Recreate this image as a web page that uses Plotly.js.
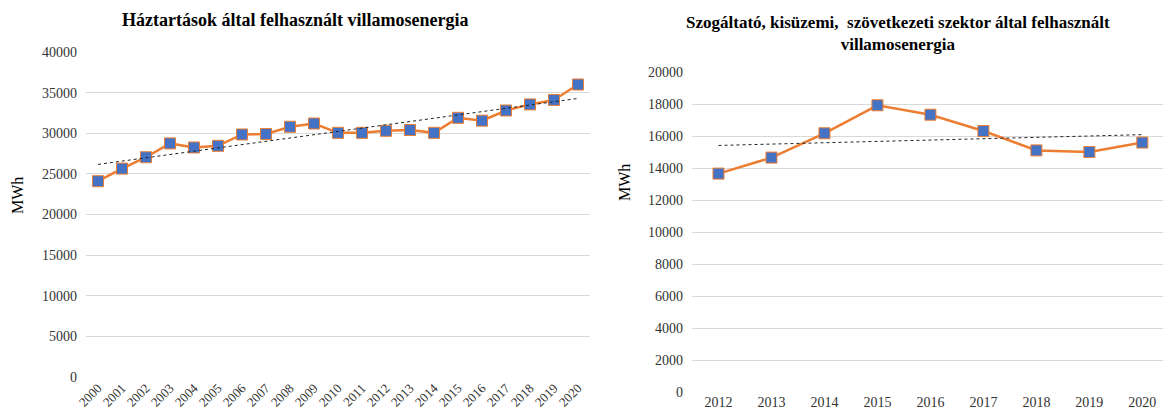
<!DOCTYPE html>
<html>
<head>
<meta charset="utf-8">
<script src="https://cdn.plot.ly/plotly-3.0.1.min.js"></script>
<style>html,body{margin:0;padding:0;background:#fff;}#chart{width:1163px;height:414px;}</style>
</head>
<body>
<div id="chart"></div>
<script>
// Left chart: households
const yearsLeft = ['2000','2001','2002','2003','2004','2005','2006','2007','2008','2009','2010','2011','2012','2013','2014','2015','2016','2017','2018','2019','2020'];
const householdMWh = [24100,25650,27050,28750,28250,28450,29850,29900,30800,31200,30050,30050,30300,30400,30050,31900,31550,32800,33550,34100,36000];

// Right chart: service, small-plant, cooperative sector
const yearsRight = ['2012','2013','2014','2015','2016','2017','2018','2019','2020'];
const serviceMWh = [13650,14650,16170,17920,17330,16310,15100,15000,15590];

const titleLeft = 'Háztartások által felhasznált villamosenergia';
const titleRightLines = ['Szogáltató, kisüzemi,  szövetkezeti szektor által felhasznált', 'villamosenergia'];
const yTitle = 'MWh';

// linear least-squares trendline endpoints (Excel-style trendline)
function trendEnds(ys){
  const n = ys.length;
  let sx=0, sy=0, sxx=0, sxy=0;
  for(let i=0;i<n;i++){ sx+=i; sy+=ys[i]; sxx+=i*i; sxy+=i*ys[i]; }
  const b = (n*sxy - sx*sy)/(n*sxx - sx*sx);
  const a = (sy - b*sx)/n;
  return [a, a + b*(n-1)];
}

const W = 1163, H = 414;
const px = v => v / W;
const py = v => 1 - v / H;

const orange = '#ED7D31', blue = '#4472C4';
const serif = 'Liberation Serif, Times New Roman, serif';

const lineTrace = (x, y, xa, ya) => ({
  x: x, y: y, xaxis: xa, yaxis: ya, type: 'scatter', mode: 'lines+markers',
  line: {color: orange, width: 2.5},
  marker: {symbol: 'square', size: 11, color: blue, line: {color: orange, width: 1}},
  hoverinfo: 'x+y', showlegend: false
});

const tL = trendEnds(householdMWh);
const tR = trendEnds(serviceMWh);

const data = [
  lineTrace(yearsLeft, householdMWh, 'x', 'y'),
  {x: [yearsLeft[0], yearsLeft[yearsLeft.length-1]], y: tL, xaxis: 'x', yaxis: 'y', type: 'scatter', mode: 'lines',
   line: {color: '#222', width: 1, dash: 'dot'}, hoverinfo: 'skip', showlegend: false},
  lineTrace(yearsRight, serviceMWh, 'x2', 'y2'),
  {x: [yearsRight[0], yearsRight[yearsRight.length-1]], y: tR, xaxis: 'x2', yaxis: 'y2', type: 'scatter', mode: 'lines',
   line: {color: '#222', width: 1, dash: 'dot'}, hoverinfo: 'skip', showlegend: false}
];

const tickFont = {family: serif, size: 14, color: '#333'};

const layout = {
  width: W, height: H,
  margin: {l: 0, r: 0, t: 0, b: 0},
  paper_bgcolor: '#fff', plot_bgcolor: '#fff',
  showlegend: false,
  xaxis: {
    domain: [px(86), px(590)], anchor: 'y', type: 'category',
    range: [-0.5, 20.5], tickangle: -45, tickfont: Object.assign({}, tickFont, {size: 13}),
    showgrid: false, showline: false, zeroline: false, ticks: ''
  },
  yaxis: {
    domain: [py(377), py(52)], anchor: 'x', range: [0, 40000], dtick: 5000,
    exponentformat: 'none', separatethousands: false, tickformat: 'd',
    tickfont: tickFont, gridcolor: '#d9d9d9', gridwidth: 1, zeroline: false, showline: false,
    ticks: '', ticklabelstandoff: 8
  },
  xaxis2: {
    domain: [px(692), 1], anchor: 'y2', type: 'category',
    range: [-0.5, 8.39], tickangle: 0, tickfont: tickFont,
    showgrid: false, showline: false, zeroline: false, ticks: ''
  },
  yaxis2: {
    domain: [py(392), py(72)], anchor: 'x2', range: [0, 20000], dtick: 2000,
    exponentformat: 'none', separatethousands: false, tickformat: 'd',
    tickfont: tickFont, gridcolor: '#d9d9d9', gridwidth: 1, zeroline: false, showline: false,
    ticks: '', ticklabelstandoff: 8
  },
  annotations: [
    {text: '<b>' + titleLeft + '</b>', xref: 'paper', yref: 'paper', x: px(295), y: py(20),
     xanchor: 'center', yanchor: 'middle', showarrow: false, font: {family: serif, size: 18, color: '#000'}},
    {text: titleRightLines.map(s => '<b>' + s + '</b>').join('<br>'), xref: 'paper', yref: 'paper', x: px(898), y: py(33),
     xanchor: 'center', yanchor: 'middle', showarrow: false, align: 'center',
     font: {family: serif, size: 17, color: '#000'}},
    {text: yTitle, xref: 'paper', yref: 'paper', x: px(17), y: py(196), textangle: -90,
     xanchor: 'center', yanchor: 'middle', showarrow: false, font: {family: serif, size: 16, color: '#000'}},
    {text: yTitle, xref: 'paper', yref: 'paper', x: px(625), y: py(183), textangle: -90,
     xanchor: 'center', yanchor: 'middle', showarrow: false, font: {family: serif, size: 16, color: '#000'}}
  ]
};

Plotly.newPlot('chart', data, layout, {displayModeBar: false, staticPlot: true});
</script>
</body>
</html>
